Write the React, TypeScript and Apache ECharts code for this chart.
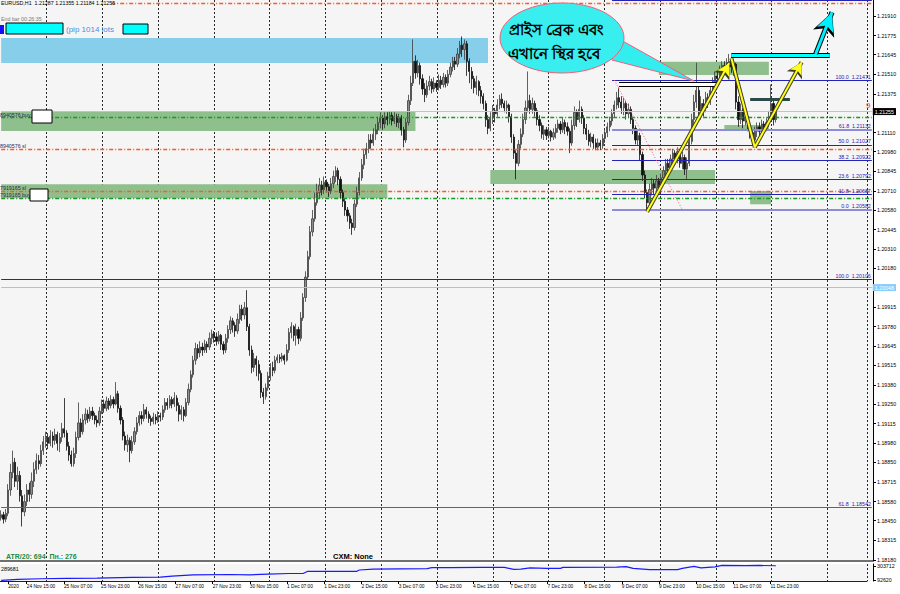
import React, { useEffect, useRef } from "react";
import * as echarts from "echarts";

const FONT = '"Liberation Sans", Arial, sans-serif';

// ---------- H1 candles (open = previous close) ----------
const firstOpen = 1.1847;
const closes = [
  1.1849, 1.1846, 1.1850, 1.1866, 1.1878, 1.1885, 1.1872, 1.1876, 1.1862, 1.1851,
  1.1858, 1.1866, 1.1863, 1.1872, 1.1880, 1.1886, 1.1884, 1.1893, 1.1899, 1.1902,
  1.1898, 1.1903, 1.1900, 1.1904, 1.1898, 1.1902, 1.1908, 1.1905, 1.1896, 1.1890,
  1.1884, 1.1891, 1.1902, 1.1912, 1.1906, 1.1914, 1.1918, 1.1915, 1.1920, 1.1917,
  1.1914, 1.1912, 1.1920, 1.1925, 1.1922, 1.1927, 1.1924, 1.1928, 1.1925, 1.1932,
  1.1922, 1.1914, 1.1903, 1.1897, 1.1900, 1.1893, 1.1899, 1.1906, 1.1912, 1.1917,
  1.1915, 1.1921, 1.1918, 1.1915, 1.1913, 1.1916, 1.1914, 1.1917, 1.1916, 1.1921,
  1.1926, 1.1924, 1.1928, 1.1925, 1.1929, 1.1924, 1.1918, 1.1921, 1.1917, 1.1926,
  1.1935, 1.1945, 1.1955, 1.1963, 1.1960, 1.1964, 1.1962, 1.1966, 1.1964, 1.1970,
  1.1973, 1.1971, 1.1968, 1.1972, 1.1966, 1.1962, 1.1970, 1.1976, 1.1982, 1.1979,
  1.1975, 1.1983, 1.1990, 1.1986, 1.1991, 1.1978, 1.1962, 1.1950, 1.1956, 1.1952,
  1.1946, 1.1933, 1.1930, 1.1936, 1.1944, 1.1950, 1.1948, 1.1955, 1.1957, 1.1956,
  1.1958, 1.1955, 1.1962, 1.1974, 1.1978, 1.1972, 1.1976, 1.1970, 1.1984, 1.1998,
  1.2012, 1.2026, 1.2043, 1.2052, 1.2063, 1.2070, 1.2075, 1.2072, 1.2077, 1.2074,
  1.2071, 1.2076, 1.2081, 1.2085, 1.2079, 1.2070, 1.2064, 1.2058, 1.2054, 1.2049,
  1.2046, 1.2062, 1.2070, 1.2080, 1.2089, 1.2096, 1.2100, 1.2106, 1.2104, 1.2110,
  1.2113, 1.2118, 1.2121, 1.2117, 1.2122, 1.2120, 1.2123, 1.2119, 1.2122, 1.2118,
  1.2121, 1.2113, 1.2106, 1.2118, 1.2133, 1.2145, 1.2160, 1.2152, 1.2157, 1.2148,
  1.2141, 1.2137, 1.2143, 1.2146, 1.2141, 1.2145, 1.2142, 1.2147, 1.2144, 1.2149,
  1.2145, 1.2151, 1.2156, 1.2160, 1.2158, 1.2165, 1.2171, 1.2168, 1.2172, 1.2160,
  1.2153, 1.2148, 1.2142, 1.2146, 1.2140, 1.2136, 1.2131, 1.2120, 1.2114, 1.2121,
  1.2126, 1.2124, 1.2130, 1.2134, 1.2131, 1.2128, 1.2130, 1.2122, 1.2108, 1.2097,
  1.2090, 1.2103, 1.2110, 1.2120, 1.2128, 1.2133, 1.2127, 1.2131, 1.2126, 1.2120,
  1.2116, 1.2110, 1.2113, 1.2109, 1.2112, 1.2108, 1.2111, 1.2114, 1.2117, 1.2113,
  1.2118, 1.2115, 1.2112, 1.2104, 1.2116, 1.2125, 1.2120, 1.2127, 1.2121, 1.2114,
  1.2110, 1.2105, 1.2108, 1.2104, 1.2101, 1.2104, 1.2102, 1.2107, 1.2111, 1.2115,
  1.2119, 1.2124, 1.2130, 1.2135, 1.2132, 1.2128, 1.2131, 1.2124, 1.2127, 1.2120,
  1.2114, 1.2106, 1.2109, 1.2096, 1.2082, 1.2070, 1.2063, 1.2072, 1.2076, 1.2073,
  1.2078, 1.2075, 1.2080, 1.2085, 1.2090, 1.2087, 1.2093, 1.2097, 1.2093, 1.2098,
  1.2090, 1.2094, 1.2086, 1.2090, 1.2105, 1.2120, 1.2132, 1.2140, 1.2125, 1.2131,
  1.2128, 1.2135, 1.2132, 1.2140, 1.2146, 1.2150, 1.2148, 1.2154, 1.2157, 1.2155,
  1.2159, 1.2160, 1.2156, 1.2158, 1.2132, 1.2120, 1.2126, 1.2119, 1.2122, 1.2115,
  1.2111, 1.2106, 1.2112, 1.2115, 1.2112, 1.2117, 1.2114, 1.2118, 1.2122, 1.2131,
  1.2120, 1.21255,
];
const highs = [
  1.1852, 1.1851, 1.1853, 1.1870, 1.1884, 1.1893, 1.1888, 1.1882, 1.1879, 1.1866,
  1.1863, 1.1870, 1.1871, 1.1878, 1.1885, 1.1891, 1.1890, 1.1897, 1.1903, 1.1906,
  1.1905, 1.1907, 1.1906, 1.1908, 1.1906, 1.1905, 1.1912, 1.1929, 1.1907, 1.1899,
  1.1893, 1.1895, 1.1906, 1.1926, 1.1915, 1.1918, 1.1922, 1.1921, 1.1923, 1.1923,
  1.1919, 1.1917, 1.1923, 1.1928, 1.1928, 1.1930, 1.1929, 1.1931, 1.1930, 1.1940,
  1.1934, 1.1924, 1.1916, 1.1906, 1.1904, 1.1902, 1.1903, 1.1909, 1.1916, 1.1920,
  1.1920, 1.1925, 1.1923, 1.1920, 1.1917, 1.1919, 1.1918, 1.1920, 1.1919, 1.1924,
  1.1929, 1.1929, 1.1931, 1.1930, 1.1933, 1.1931, 1.1926, 1.1924, 1.1923, 1.1929,
  1.1939, 1.1948, 1.1958, 1.1967, 1.1966, 1.1968, 1.1967, 1.1969, 1.1968, 1.1974,
  1.1976, 1.1975, 1.1974, 1.1975, 1.1973, 1.1968, 1.1973, 1.1979, 1.1985, 1.1984,
  1.1981, 1.1987, 1.1993, 1.1993, 1.1995, 1.2003, 1.1980, 1.1965, 1.1960, 1.1958,
  1.1955, 1.1948, 1.1936, 1.1939, 1.1947, 1.1953, 1.1954, 1.1958, 1.1959, 1.1959,
  1.1960, 1.1959, 1.1966, 1.1977, 1.1981, 1.1979, 1.1980, 1.1978, 1.1988, 1.2001,
  1.2016, 1.2030, 1.2047, 1.2058, 1.2070, 1.2076, 1.2080, 1.2078, 1.2081, 1.2079,
  1.2076, 1.2080, 1.2085, 1.2088, 1.2087, 1.2081, 1.2072, 1.2066, 1.2060, 1.2056,
  1.2052, 1.2065, 1.2074, 1.2084, 1.2093, 1.2100, 1.2104, 1.2110, 1.2110, 1.2114,
  1.2117, 1.2122, 1.2125, 1.2123, 1.2125, 1.2125, 1.2126, 1.2125, 1.2125, 1.2124,
  1.2124, 1.2123, 1.2115, 1.2121, 1.2137, 1.2150, 1.2175, 1.2164, 1.2161, 1.2159,
  1.2151, 1.2145, 1.2147, 1.2150, 1.2148, 1.2149, 1.2147, 1.2151, 1.2150, 1.2152,
  1.2151, 1.2154, 1.2159, 1.2163, 1.2163, 1.2169, 1.2174, 1.2177, 1.2175, 1.2174,
  1.2162, 1.2156, 1.2150, 1.2150, 1.2147, 1.2143, 1.2138, 1.2133, 1.2123, 1.2125,
  1.2130, 1.2128, 1.2134, 1.2137, 1.2138, 1.2133, 1.2133, 1.2131, 1.2124, 1.2110,
  1.2099, 1.2106, 1.2114, 1.2124, 1.2133, 1.2153, 1.2137, 1.2135, 1.2133, 1.2128,
  1.2123, 1.2118, 1.2116, 1.2115, 1.2115, 1.2113, 1.2114, 1.2117, 1.2120, 1.2119,
  1.2121, 1.2120, 1.2118, 1.2114, 1.2120, 1.2129, 1.2127, 1.2133, 1.2129, 1.2123,
  1.2117, 1.2113, 1.2111, 1.2110, 1.2107, 1.2107, 1.2106, 1.2110, 1.2114, 1.2118,
  1.2122, 1.2127, 1.2133, 1.2139, 1.2142, 1.2136, 1.2135, 1.2133, 1.2131, 1.2129,
  1.2122, 1.2116, 1.2113, 1.2111, 1.2098, 1.2085, 1.2072, 1.2076, 1.2080, 1.2079,
  1.2082, 1.2080, 1.2083, 1.2088, 1.2093, 1.2093, 1.2096, 1.2100, 1.2099, 1.2101,
  1.2099, 1.2098, 1.2096, 1.2094, 1.2108, 1.2124, 1.2137, 1.2159, 1.2143, 1.2136,
  1.2134, 1.2139, 1.2138, 1.2143, 1.2149, 1.2153, 1.2153, 1.2157, 1.2160, 1.2160,
  1.2162, 1.2165, 1.2163, 1.2161, 1.2159, 1.2136, 1.2131, 1.2128, 1.2126, 1.2124,
  1.2118, 1.2113, 1.2115, 1.2118, 1.2118, 1.2120, 1.2119, 1.2121, 1.2126, 1.2144,
  1.2133, 1.2129,
];
const lows = [
  1.1845, 1.1843, 1.1844, 1.1848, 1.1862, 1.1874, 1.1868, 1.1866, 1.1858, 1.1841,
  1.1848, 1.1855, 1.1858, 1.1860, 1.1868, 1.1877, 1.1880, 1.1882, 1.1890, 1.1895,
  1.1894, 1.1896, 1.1895, 1.1897, 1.1893, 1.1892, 1.1899, 1.1902, 1.1893, 1.1886,
  1.1882, 1.1882, 1.1888, 1.1900, 1.1902, 1.1904, 1.1911, 1.1912, 1.1913, 1.1914,
  1.1911, 1.1909, 1.1910, 1.1918, 1.1919, 1.1920, 1.1921, 1.1922, 1.1922, 1.1924,
  1.1919, 1.1911, 1.1900, 1.1893, 1.1892, 1.1885, 1.1891, 1.1897, 1.1904, 1.1910,
  1.1911, 1.1913, 1.1915, 1.1912, 1.1910, 1.1911, 1.1911, 1.1912, 1.1913, 1.1914,
  1.1919, 1.1921, 1.1922, 1.1922, 1.1923, 1.1920, 1.1913, 1.1914, 1.1913, 1.1916,
  1.1924, 1.1933, 1.1943, 1.1952, 1.1956, 1.1957, 1.1958, 1.1960, 1.1960, 1.1962,
  1.1966, 1.1967, 1.1965, 1.1966, 1.1962, 1.1959, 1.1960, 1.1967, 1.1973, 1.1974,
  1.1971, 1.1973, 1.1980, 1.1982, 1.1983, 1.1975, 1.1958, 1.1946, 1.1947, 1.1944,
  1.1941, 1.1929, 1.1925, 1.1928, 1.1934, 1.1941, 1.1944, 1.1946, 1.1953, 1.1953,
  1.1954, 1.1952, 1.1954, 1.1960, 1.1970, 1.1968, 1.1965, 1.1966, 1.1968, 1.1982,
  1.1995, 1.2010, 1.2024, 1.2040, 1.2050, 1.2061, 1.2066, 1.2068, 1.2069, 1.2070,
  1.2067, 1.2069, 1.2073, 1.2077, 1.2075, 1.2066, 1.2060, 1.2054, 1.2050, 1.2045,
  1.2041, 1.2044, 1.2060, 1.2068, 1.2078, 1.2086, 1.2093, 1.2097, 1.2100, 1.2102,
  1.2106, 1.2110, 1.2114, 1.2113, 1.2114, 1.2116, 1.2117, 1.2116, 1.2117, 1.2115,
  1.2114, 1.2109, 1.2101, 1.2104, 1.2116, 1.2130, 1.2143, 1.2148, 1.2149, 1.2144,
  1.2137, 1.2132, 1.2135, 1.2140, 1.2138, 1.2139, 1.2139, 1.2140, 1.2141, 1.2142,
  1.2142, 1.2143, 1.2149, 1.2153, 1.2154, 1.2156, 1.2162, 1.2163, 1.2161, 1.2150,
  1.2145, 1.2141, 1.2138, 1.2137, 1.2136, 1.2131, 1.2127, 1.2115, 1.2110, 1.2112,
  1.2117, 1.2118, 1.2122, 1.2127, 1.2128, 1.2125, 1.2124, 1.2118, 1.2104, 1.2093,
  1.2079, 1.2088, 1.2100, 1.2108, 1.2117, 1.2125, 1.2124, 1.2124, 1.2122, 1.2116,
  1.2112, 1.2107, 1.2106, 1.2106, 1.2107, 1.2105, 1.2106, 1.2107, 1.2111, 1.2110,
  1.2111, 1.2110, 1.2109, 1.2097, 1.2102, 1.2113, 1.2115, 1.2118, 1.2117, 1.2110,
  1.2106, 1.2102, 1.2101, 1.2100, 1.2099, 1.2099, 1.2099, 1.2100, 1.2104, 1.2108,
  1.2112, 1.2116, 1.2121, 1.2127, 1.2128, 1.2124, 1.2123, 1.2120, 1.2121, 1.2117,
  1.2110, 1.2103, 1.2102, 1.2092, 1.2078, 1.2066, 1.2058, 1.2061, 1.2068, 1.2069,
  1.2071, 1.2070, 1.2073, 1.2078, 1.2082, 1.2083, 1.2085, 1.2089, 1.2089, 1.2090,
  1.2087, 1.2086, 1.2082, 1.2079, 1.2088, 1.2103, 1.2117, 1.2128, 1.2121, 1.2120,
  1.2122, 1.2125, 1.2128, 1.2130, 1.2138, 1.2143, 1.2145, 1.2147, 1.2152, 1.2152,
  1.2153, 1.2155, 1.2152, 1.2150, 1.2127, 1.2115, 1.2117, 1.2114, 1.2116, 1.2112,
  1.2107, 1.2102, 1.2103, 1.2108, 1.2109, 1.2110, 1.2111, 1.2112, 1.2115, 1.2120,
  1.2116, 1.2118,
];
const totalSlots = 373; // bars + empty right shift area

// ---------- axes ----------
const priceMin = 1.18173;
const priceMax = 1.2202;
const priceTicks = [
  1.2191, 1.21775, 1.21645, 1.2151, 1.21375, 1.2111, 1.2098, 1.20845, 1.2071,
  1.2058, 1.20445, 1.2031, 1.2018, 1.19915, 1.1978, 1.19645, 1.19515, 1.1938,
  1.1925, 1.19115, 1.1898, 1.1885, 1.18715, 1.1858, 1.1845, 1.18315, 1.1818,
];
const timeLabelPos = [3, 11, 27, 43, 59, 75, 91, 107, 123, 139, 155, 171, 187, 203, 219, 235, 251, 267, 283, 299, 315, 331];
const timeLabels = [
  "2020", "24 Nov 15:00", "25 Nov 07:00", "25 Nov 23:00", "26 Nov 15:00", "27 Nov 07:00",
  "27 Nov 23:00", "30 Nov 15:00", "1 Dec 07:00", "1 Dec 23:00", "2 Dec 15:00",
  "3 Dec 07:00", "3 Dec 23:00", "4 Dec 15:00", "7 Dec 07:00", "7 Dec 23:00",
  "8 Dec 15:00", "9 Dec 07:00", "9 Dec 23:00", "10 Dec 15:00", "11 Dec 07:00", "11 Dec 23:00",
];
const daySeparators = [20, 44, 68, 92, 116, 140, 164, 188, 212, 236, 260, 284, 308, 332, 356];

// ---------- indicator panel ----------
const indicatorPts = [
  [0, 90000], [7, 104300], [17, 112900], [28, 118600], [41, 122900], [56, 132900],
  [68, 137100], [73, 151400], [82, 170000], [98, 175700], [106, 170000], [114, 180000],
  [123, 190000], [129, 190000], [131, 222900], [152, 222900], [153, 241400], [159, 255700],
  [182, 261400], [184, 275700], [192, 277100], [205, 280000], [215, 280000], [219, 251400],
  [222, 255700], [226, 272900], [233, 265700], [239, 265700], [240, 280000], [263, 282900],
  [267, 291400], [270, 265700], [277, 247100], [289, 247100], [291, 265700], [296, 294300],
  [299, 272900], [305, 287100], [308, 308600], [318, 305700], [324, 308600], [331, 304300],
];
const indicatorTicks = [92620, 303712];

// ---------- levels ----------
const fibPct = ["100.0", "61.8", "50.0", "38.2", "23.6", "11.8", "0.0"];
const fibPrice = [1.21471, 1.21132, 1.21027, 1.20922, 1.20792, 1.20687, 1.20582];
const fibTop = 1.22015;
const bigFibPct = ["100.0", "61.8"];
const bigFibPrice = [1.20106, 1.18542];
const bidPrice = 1.21255;
const markerPrice = 1.20048;
const buyPrices = [1.21216, 1.20662];
const slPrices = [1.20998, 1.2071];
const tpPrice = 1.21999;

// zones: [fromBar, topPrice, toBar, bottomPrice]
const blueZones = [[0, 1.21759, 208, 1.21588]];
const greenZones = [
  [0, 1.21259, 177, 1.21122],
  [0, 1.20756, 165, 1.2066],
  [209, 1.20854, 305, 1.20758],
  [281, 1.21597, 328, 1.21506],
  [309, 1.21163, 328, 1.21122],
  [320, 1.2071, 329, 1.20619],
];
// drawn objects (bar index, price)
const fibDiagonal = [[262, 1.21471], [291, 1.20582]];
const whiteBar = [[264, 1.21445], [306, 1.21445]];
const cyanBar = [[312, 1.21641], [354, 1.21641]];
const tealBar = [[320, 1.21341], [337, 1.21341]];
const yellowLegs = [
  [[276, 1.20568], [311, 1.21586], 1],
  [[312, 1.2162], [322, 1.2101], 0],
  [[322, 1.2101], [342, 1.21593], 1],
];
const cyanArrow = [[348, 1.2165], [355, 1.21936]];

function buildOption() {
  const cats = Array.from({ length: totalSlots }, (_, i) => String(i));
  const candles = closes.map((c, i) => [i === 0 ? firstOpen : closes[i - 1], c, lows[i], highs[i]]);
  const labelAt: Record<number, string> = {};
  timeLabelPos.forEach((p, i) => (labelAt[p] = timeLabels[i]));
  const sepSet = new Set(daySeparators);
  const lastSlot = totalSlots - 1;

  const dashDot = [4, 2, 1, 2];
  const small = { fontSize: 5.3, fontFamily: FONT };
  const NAVY = "#2424b4";

  const seg = (a: number[], b: number[], color: string, width: number, extra: any = {}) => [
    { coord: a, symbol: "none", lineStyle: { color, width, type: extra.type || "solid", opacity: 1 }, label: extra.label || { show: false } },
    { coord: b, symbol: extra.arrow ? "arrow" : "none", symbolSize: extra.arrow || 0 },
  ];
  const hLine = (price: number, color: string, type: any, width: number, label?: any) =>
    seg([0, price], [lastSlot, price], color, width, { type, label: label ? { show: true, ...label } : { show: false } });

  const markLines: any[] = [];
  markLines.push(hLine(bidPrice, "#c4c4c4", "solid", 1, {
    position: "end", formatter: bidPrice.toFixed(5), backgroundColor: "#000", color: "#fff",
    padding: [1, 2, 1, 2], distance: 1, ...small,
  }));
  markLines.push(hLine(markerPrice, "#87cefa", "solid", 1.2, {
    position: "end", formatter: markerPrice.toFixed(5), backgroundColor: "#87cefa", color: "#fff",
    padding: [1, 2, 1, 2], distance: 1, ...small,
  }));
  bigFibPrice.forEach((p, i) =>
    markLines.push(hLine(p, i === 0 ? NAVY : "#5a5ab4", "solid", 1.2, {
      position: "insideEndTop", formatter: `${bigFibPct[i]}  ${p.toFixed(5)}`, color: NAVY, distance: 1, ...small,
    }))
  );
  buyPrices.forEach((p) => markLines.push(hLine(p, "#159a22", dashDot, 1.3)));
  slPrices.forEach((p) => markLines.push(hLine(p, "#ff5a22", dashDot, 1.3)));
  markLines.push(seg([47, tpPrice], [lastSlot, tpPrice], "#ff5a22", 1.3, { type: dashDot }));
  markLines.push(seg([261, fibTop], [lastSlot, fibTop], NAVY, 1.2));
  fibPrice.forEach((p, i) => {
    const light = fibPct[i] === "61.8" || fibPct[i] === "0.0";
    markLines.push(seg([261, p], [lastSlot, p], light ? "#8c8cd8" : NAVY, light ? 2 : 1.2, {
      label: { show: true, position: "insideEndTop", formatter: `${fibPct[i]}  ${p.toFixed(5)}`, color: NAVY, distance: 1, ...small },
    }));
  });
  markLines.push(seg(fibDiagonal[0], fibDiagonal[1], "#ff5a78", 1, { type: [1, 2] }));
  markLines.push(seg(whiteBar[0], whiteBar[1], "#000", 5));
  markLines.push(seg(whiteBar[0], whiteBar[1], "#ffffff", 3));
  markLines.push(seg(tealBar[0], tealBar[1], "#2b4a4a", 3));
  yellowLegs.forEach(([a, b, arrow]: any) =>
    markLines.push(seg(a, b, "#3d3d1e", 4, arrow ? { arrow: [13, 15] } : {}))
  );
  markLines.push(seg(cyanBar[0], cyanBar[1], "#000", 5));
  markLines.push(seg(cyanBar[0], cyanBar[1], "#00ffff", 3));
  yellowLegs.forEach(([a, b, arrow]: any) =>
    markLines.push(seg(a, b, "#ffff1a", 2, arrow ? { arrow: [10, 12] } : {}))
  );
  markLines.push(seg(cyanArrow[0], cyanArrow[1], "#000", 5, { arrow: [17, 23] }));
  markLines.push(seg(cyanArrow[0], cyanArrow[1], "#00f0ff", 3, { arrow: [13, 19] }));

  const areas: any[] = [];
  blueZones.forEach(([c1, p1, c2, p2]) =>
    areas.push([{ coord: [c1, p1], itemStyle: { color: "#87ceeb" } }, { coord: [c2, p2] }])
  );
  greenZones.forEach(([c1, p1, c2, p2]) =>
    areas.push([{ coord: [c1, p1], itemStyle: { color: "#8fbf8c" } }, { coord: [c2, p2] }])
  );

  const txt = (text: string, x: number, y: number, o: any = {}) => ({
    type: "text", z: 100, silent: true,
    style: { text, x, y, fill: o.fill || "#000", fontSize: o.size || 5.3, fontFamily: o.family || FONT,
      fontWeight: o.weight || "normal", align: o.align || "left", verticalAlign: "middle" },
  });
  const rect = (x: number, y: number, w: number, h: number, fill: string, stroke?: string) => ({
    type: "rect", z: 100, silent: true, shape: { x, y, width: w, height: h },
    style: { fill, stroke: stroke || null, lineWidth: stroke ? 1 : 0 },
  });

  const graphics = [
    txt("EURUSD,H1  1.21287 1.21355 1.21184 1.21255", 1, 3),
    txt("End bar 00:26:35", 1, 19, { fill: "#7a7a7a" }),
    rect(0, 25, 4, 9, "#1010ff"),
    rect(6, 23, 57, 11, "#00ffff", "#000"),
    txt("(pip 1014 lots", 66, 29, { fill: "#4a8fe0", size: 8 }),
    rect(123, 24, 25, 10, "#00ffff", "#000"),
    txt("8940576 buy", 0, 114.5, { fill: "#2a2a5a" }),
    rect(32, 110, 20, 13, "#ffffff", "#000"),
    txt("8940576 sl", 0, 146, { fill: "#2a2a5a" }),
    txt("7919165 sl", 0, 187.5, { fill: "#2a2a5a" }),
    txt("7919165 buy", 0, 194.5, { fill: "#2a2a5a" }),
    rect(30, 189, 18, 12, "#ffffff", "#000"),
    {
      type: "polygon", z: 100, silent: true,
      shape: { points: [[612, 35], [612, 60], [694, 81]] },
      style: { fill: "#33eeee", stroke: "#f0607a", lineWidth: 1 },
    },
    {
      type: "ellipse", z: 101, silent: true,
      shape: { cx: 562, cy: 38, rx: 62, ry: 35 },
      style: { fill: "#38eeee", stroke: "#f0607a", lineWidth: 1 },
    },
    { ...txt("প্রাইস ব্রেক এবং", 556, 29, { size: 15, weight: "bold", align: "center", family: "'Noto Sans', sans-serif" }), z: 102 },
    { ...txt("এখানে স্থির হবে", 554, 53, { size: 15, weight: "bold", align: "center", family: "'Noto Sans', sans-serif" }), z: 102 },
    txt("9", 866, 105, { fill: "#ff3030", size: 8 }),
    txt("ATR/20: 694  Пн.: 276", 6, 556, { fill: "#1e8c46", size: 7, weight: "bold" }),
    txt("CXM: None", 333, 556, { size: 7.5, weight: "bold" }),
    txt("289681", 1, 568.5),
  ];

  return {
    animation: false,
    backgroundColor: "#ffffff",
    grid: [
      { left: 0, top: 0, width: 873, height: 561, show: true, backgroundColor: "#f5f5f5", borderWidth: 0 },
      { left: 0, top: 564, width: 873, height: 17, show: true, backgroundColor: "#f5f5f5", borderWidth: 0 },
      { left: -6, top: 0, width: 873, height: 581, show: false },
    ],
    xAxis: [
      {
        type: "category", gridIndex: 0, data: cats,
        axisLine: { show: true, lineStyle: { color: "#707070", width: 2 } },
        axisTick: { show: false }, axisLabel: { show: false }, splitLine: { show: false },
      },
      {
        type: "category", gridIndex: 1, data: cats,
        axisLine: { show: false }, axisTick: { show: false }, axisLabel: { show: false }, splitLine: { show: false },
      },
      {
        type: "category", gridIndex: 2, data: cats, position: "bottom",
        axisLine: { show: true, lineStyle: { color: "#222", width: 1 } },
        axisTick: { show: true, alignWithLabel: true, length: 3, interval: (i: number) => labelAt[i] !== undefined, lineStyle: { color: "#000" } },
        axisLabel: {
          interval: (i: number) => labelAt[i] !== undefined,
          formatter: (_v: string, i: number) => labelAt[i] ?? "",
          fontSize: 4.8, fontFamily: FONT, color: "#000", align: "left", margin: 3,
        },
        splitLine: { show: true, interval: (i: number) => sepSet.has(i), lineStyle: { color: "#2a2a2a", type: [2, 2], width: 1 } },
      },
    ],
    yAxis: [
      {
        type: "value", gridIndex: 0, position: "right", min: priceMin, max: priceMax,
        axisLine: { show: true, lineStyle: { color: "#000" } },
        axisTick: { show: true, length: 3, customValues: priceTicks, lineStyle: { color: "#000" } },
        axisLabel: { customValues: priceTicks, formatter: (v: number) => v.toFixed(5), color: "#000", margin: 4, ...small },
        splitLine: { show: false },
      },
      {
        type: "value", gridIndex: 1, position: "right", min: 80000, max: 330000,
        axisLine: { show: true, lineStyle: { color: "#000" } },
        axisTick: { show: true, length: 3, customValues: indicatorTicks, lineStyle: { color: "#000" } },
        axisLabel: { customValues: indicatorTicks, formatter: (v: number) => String(v), color: "#000", margin: 4, ...small },
        splitLine: { show: false },
      },
      { type: "value", gridIndex: 2, show: false, min: 0, max: 1 },
    ],
    series: [
      {
        type: "candlestick", xAxisIndex: 0, yAxisIndex: 0, data: candles, barWidth: 1.7, silent: true, clip: false,
        itemStyle: { color: "#8e8e8e", color0: "#101010", borderColor: "#3c3c3c", borderColor0: "#101010", borderWidth: 0.8 },
        markArea: { silent: true, label: { show: false }, data: areas },
        markLine: { silent: true, symbol: "none", animation: false, label: { show: false }, data: markLines },
      },
      {
        type: "line", xAxisIndex: 1, yAxisIndex: 1, data: indicatorPts, showSymbol: false, silent: true,
        lineStyle: { color: "#1a1aff", width: 1.2 },
      },
      { type: "line", xAxisIndex: 2, yAxisIndex: 2, data: [], silent: true },
    ],
    graphic: graphics,
  };
}

export default function App() {
  const ref = useRef<HTMLDivElement>(null);
  useEffect(() => {
    if (!ref.current) return;
    const chart = echarts.init(ref.current, undefined, { renderer: "svg" });
    chart.setOption(buildOption() as any);
    return () => chart.dispose();
  }, []);
  return (
    <div style={{ position: "fixed", left: 0, top: 0, width: 900, height: 594, background: "#fff" }}>
      <div ref={ref} style={{ width: 900, height: 594 }} />
    </div>
  );
}
